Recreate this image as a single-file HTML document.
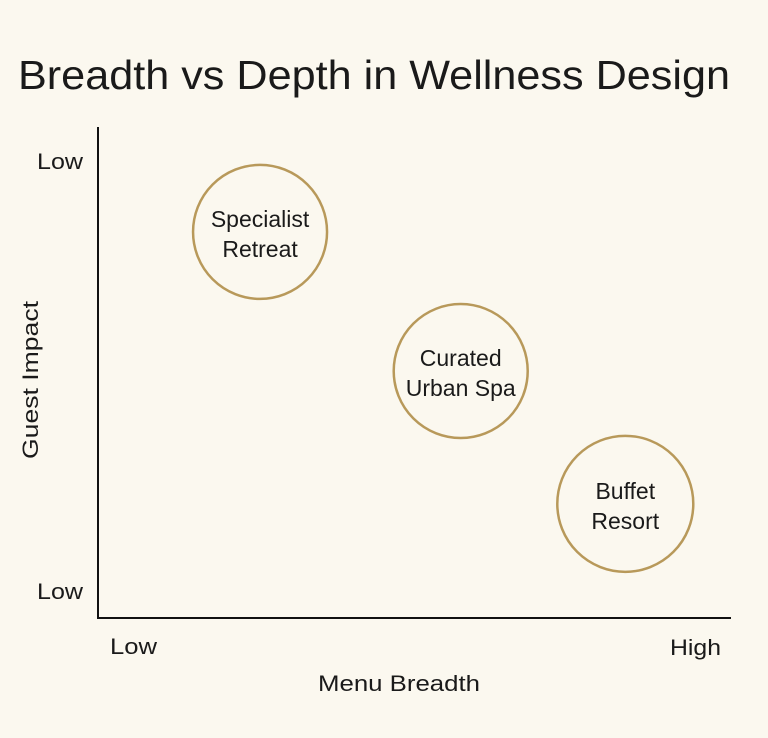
<!DOCTYPE html>
<html><head><meta charset="utf-8"><style>
body{margin:0;background:#fbf8ef;}
svg{display:block;font-family:"Liberation Sans",sans-serif;}
</style></head><body>
<svg id="chart" width="768" height="738">
<rect width="768" height="738" fill="#fbf8ef"/>
<text x="18" y="89" font-size="41" textLength="712" lengthAdjust="spacingAndGlyphs" fill="#1a1a1a">Breadth vs Depth in Wellness Design</text>
<line x1="98" y1="127" x2="98" y2="619" stroke="#111" stroke-width="2"/>
<line x1="97" y1="618" x2="731" y2="618" stroke="#111" stroke-width="2"/>
<text x="37" y="169" font-size="22" textLength="46" lengthAdjust="spacingAndGlyphs" fill="#1a1a1a">Low</text>
<text x="37" y="599" font-size="22" textLength="46" lengthAdjust="spacingAndGlyphs" fill="#1a1a1a">Low</text>
<text x="110" y="654" font-size="22" textLength="47" lengthAdjust="spacingAndGlyphs" fill="#1a1a1a">Low</text>
<text x="670" y="655" font-size="22" textLength="51" lengthAdjust="spacingAndGlyphs" fill="#1a1a1a">High</text>
<text x="318" y="691" font-size="22" textLength="162" lengthAdjust="spacingAndGlyphs" fill="#1a1a1a">Menu Breadth</text>
<text transform="translate(38,380) rotate(-90)" font-size="22" text-anchor="middle" textLength="158" lengthAdjust="spacingAndGlyphs" fill="#1a1a1a">Guest Impact</text>
<g id="marks"></g>
</svg>
<script>
const labels=[["Specialist","Retreat"],["Curated","Urban Spa"],["Buffet","Resort"]];
const names=["specialist-retreat","curated-urban-spa","buffet-resort"];
const xVals=[0.256,0.573,0.833];
const yVals=[0.788,0.504,0.233];
const sizes=[67,67,68];
const xs=v=>98+v*633, ys=v=>618-v*490;
const ns="http://www.w3.org/2000/svg", g=document.getElementById('marks');
xVals.forEach((xv,i)=>{
 const cx=xs(xv), cy=ys(yVals[i]);
 const c=document.createElementNS(ns,'circle');
 c.setAttribute('cx',cx);c.setAttribute('cy',cy);c.setAttribute('r',sizes[i]);
 c.setAttribute('fill','none');c.setAttribute('stroke','#b8995a');c.setAttribute('stroke-width','2.5');
 
 
 g.appendChild(c);
 labels[i].forEach((ln,j)=>{
  const t=document.createElementNS(ns,'text');
  t.setAttribute('x',cx);t.setAttribute('y',cy-5+j*30);
  t.setAttribute('text-anchor','middle');t.setAttribute('font-size','23');t.setAttribute('fill','#1a1a1a');
  t.textContent=ln;
  
  
  g.appendChild(t);
 });
});
</script>
</body></html>
